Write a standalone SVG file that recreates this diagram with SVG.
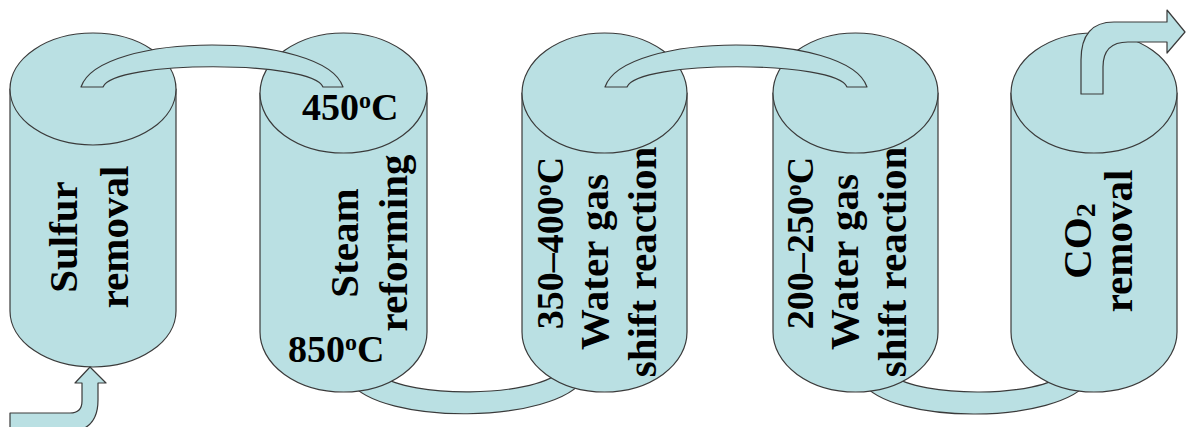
<svg xmlns="http://www.w3.org/2000/svg" width="1186" height="427" viewBox="0 0 1186 427">
<style>
.f{fill:#BAE0E3;stroke:#3a3a3a;stroke-width:1.2;stroke-linejoin:round}
.t{font-family:"Liberation Serif","Times New Roman",serif;font-weight:bold;font-size:41px;fill:#000;text-anchor:middle}
.tmp{font-family:"Liberation Serif","Times New Roman",serif;font-weight:bold;font-size:38px;fill:#000}
</style>
<rect width="1186" height="427" fill="#fff"/>
<g id="connectors-bottom">
<path class="f" d="M350,382 C380,425 555,425 585,378 L560,372 C530,398 410,398 380,375 Z"/>
<path class="f" d="M862,382 C890,425 1060,425 1090,380 L1065,373 C1040,398 920,398 892,375 Z"/>
</g>
<g id="sulfur">
<path class="f" d="M10,89 L10,311 A83 56 0 0 0 176,311 L176,89 Z"/>
<ellipse class="f" cx="93" cy="89" rx="83" ry="56"/>
<text class="t" transform="translate(77,237) rotate(-90)">Sulfur</text>
<text class="t" transform="translate(128,237) rotate(-90)">removal</text>
</g>
<g id="steam">
<path class="f" d="M260,93 L260,332 A83.5 60 0 0 0 427,332 L427,93 Z"/>
<ellipse class="f" cx="343.5" cy="93" rx="83.5" ry="60"/>
<text class="t" transform="translate(358,243) rotate(-90)">Steam</text>
<text class="t" transform="translate(407,243) rotate(-90)">reforming</text>
<text class="tmp" x="302" y="120">450<tspan dy="-12" font-size="24">o</tspan><tspan dy="12">C</tspan></text>
<text class="tmp" x="288" y="362">850<tspan dy="-12" font-size="24">o</tspan><tspan dy="12">C</tspan></text>
</g>
<g id="wgs-high">
<path class="f" d="M522,93 L522,332 A82.5 60 0 0 0 687,332 L687,93 Z"/>
<ellipse class="f" cx="604.5" cy="93" rx="82.5" ry="60"/>
<text class="tmp" text-anchor="middle" transform="translate(563,243) rotate(-90)">350–400<tspan dy="-12" font-size="24">o</tspan><tspan dy="12">C</tspan></text>
<text class="t" transform="translate(608,262) rotate(-90)">Water gas</text>
<text class="t" transform="translate(656,262) rotate(-90)">shift reaction</text>
</g>
<g id="wgs-low">
<path class="f" d="M773,93 L773,332 A82.5 60 0 0 0 938,332 L938,93 Z"/>
<ellipse class="f" cx="855.5" cy="93" rx="82.5" ry="60"/>
<text class="tmp" text-anchor="middle" transform="translate(813,243) rotate(-90)">200–250<tspan dy="-12" font-size="24">o</tspan><tspan dy="12">C</tspan></text>
<text class="t" transform="translate(858,262) rotate(-90)">Water gas</text>
<text class="t" transform="translate(906,262) rotate(-90)">shift reaction</text>
</g>
<g id="co2">
<path class="f" d="M1011,93 L1011,332 A83 60 0 0 0 1177,332 L1177,93 Z"/>
<ellipse class="f" cx="1094" cy="93" rx="83" ry="60"/>
<text class="t" transform="translate(1091,241) rotate(-90)">CO<tspan dy="4" font-size="28">2</tspan></text>
<text class="t" transform="translate(1132,241) rotate(-90)">removal</text>
</g>
<g id="connectors-top">
<path class="f" d="M81,87 C100,31 324,31 343,87 L323,87 C313,60 113,60 103,87 Z"/>
<path class="f" d="M605,87 C624,31 848,31 867,87 L847,87 C837,60 637,60 627,87 Z"/>
<path class="f" d="M1081,94 L1081,60 Q1081,22 1114,22 L1167,22 L1167,10 L1185,32 L1167,53 L1167,42 L1128,42 Q1103,42 1103,67 L1103,94 Z"/>
<path class="f" d="M10,432 L10,413 L70,413 Q82,413 82,401 L82,383 L75,383 L90,367 L106,383 L98,383 L98,400 Q98,432 66,432 Z"/>
</g>
</svg>
